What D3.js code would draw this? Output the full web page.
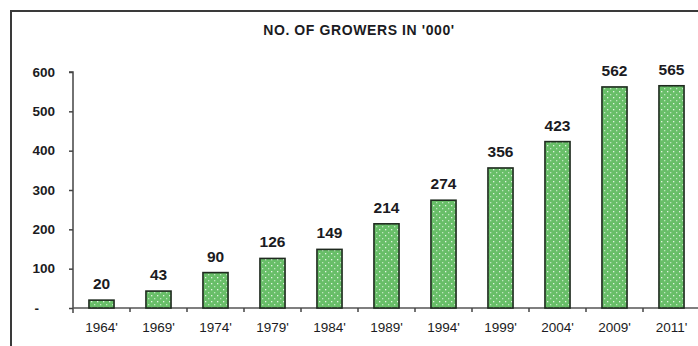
<!DOCTYPE html>
<html>
<head>
<meta charset="utf-8">
<script src="https://cdn.jsdelivr.net/npm/d3@7"></script>
<style>
  html, body { margin: 0; padding: 0; background: #fff; }
  svg { display: block; font-family: "Liberation Sans", Arial, sans-serif; }
</style>
</head>
<body>
<svg id="chart" width="698" height="346"></svg>
<script>
// Growers counted at each survey year (thousands)
const years = ["1964'", "1969'", "1974'", "1979'", "1984'", "1989'", "1994'", "1999'", "2004'", "2009'", "2011'"];
const growers = [20, 43, 90, 126, 149, 214, 274, 356, 423, 562, 565];
const yTicks = [0, 100, 200, 300, 400, 500, 600];
const yTickLabels = ["-", "100", "200", "300", "400", "500", "600"];
const chartTitle = "NO. OF GROWERS IN '000'";

const svg = d3.select("#chart");
const ink = "#1b1b22";

const margin = { left: 73, top: 72, bottom: 308, right: 700 };

const x = d3.scaleBand().domain(years).range([margin.left, margin.right]).paddingInner(0.56).paddingOuter(0.28);
const y = d3.scaleLinear().domain([0, 600]).range([margin.bottom, margin.top]);

// dotted green fill for the bars
const defs = svg.append("defs");
const pat = defs.append("pattern").attr("id", "dots").attr("patternUnits", "userSpaceOnUse")
  .attr("width", 6).attr("height", 6);
pat.append("rect").attr("width", 6).attr("height", 6).attr("fill", "#68be68");
pat.append("rect").attr("x", 1).attr("y", 1).attr("width", 1.3).attr("height", 1.3).attr("fill", "#e2f4e2");
pat.append("rect").attr("x", 4).attr("y", 4).attr("width", 1.3).attr("height", 1.3).attr("fill", "#bfe6bf");

// outer frame
svg.append("rect").attr("x", 11).attr("y", 11).attr("width", 720).attr("height", 360)
  .attr("fill", "none").attr("stroke", "#3a3a3a").attr("stroke-width", 2);

// title
svg.append("text").attr("x", 359).attr("y", 35).attr("text-anchor", "middle")
  .attr("font-weight", "bold").attr("font-size", 14).attr("letter-spacing", 0.6)
  .attr("fill", ink).text(chartTitle);

// y axis
const yAxis = d3.axisLeft(y).tickValues(yTicks).tickSize(4).tickPadding(14)
  .tickFormat((d, i) => yTickLabels[i]);
const gy = svg.append("g").attr("transform", `translate(${margin.left},0)`).call(yAxis);
gy.select(".domain").attr("stroke", "#444").attr("stroke-width", 1.5).attr("d", `M-4,${y(600)}H0V${y(0) + 5}`);
gy.selectAll(".tick line").attr("stroke", "#444").attr("stroke-width", 1.5);
gy.selectAll(".tick text").attr("font-size", 13.5).attr("font-weight", "bold").attr("fill", ink)
  .attr("font-family", "Liberation Sans, Arial, sans-serif");
// the zero label sits further left, as a dash in the accounting style
gy.selectAll(".tick text").filter(d => d === 0).attr("dx", -16);

// x axis with ticks between categories
const gx = svg.append("g").attr("transform", `translate(0,${margin.bottom})`);
gx.append("line").attr("x1", margin.left).attr("x2", margin.right).attr("y1", 0).attr("y2", 0)
  .attr("stroke", "#555").attr("stroke-width", 1.5);
const step = x.step();
gx.selectAll("line.sep").data(years.slice(1)).join("line").attr("class", "sep")
  .attr("x1", d => x(d) - (step - x.bandwidth()) / 2).attr("x2", d => x(d) - (step - x.bandwidth()) / 2)
  .attr("y1", 0).attr("y2", 4).attr("stroke", "#444").attr("stroke-width", 1.5);
gx.selectAll("text").data(years).join("text")
  .attr("x", d => x(d) + x.bandwidth() / 2).attr("y", 24).attr("text-anchor", "middle")
  .attr("font-size", 13.5).attr("fill", ink).text(d => d);

// bars
svg.append("g").selectAll("rect").data(growers).join("rect")
  .attr("x", (d, i) => x(years[i])).attr("width", x.bandwidth())
  .attr("y", d => y(d)).attr("height", d => y(0) - y(d))
  .attr("fill", "url(#dots)").attr("stroke", "#1f2a1f").attr("stroke-width", 1.6);

// value labels
svg.append("g").selectAll("text").data(growers).join("text")
  .attr("x", (d, i) => x(years[i]) + x.bandwidth() / 2).attr("y", d => y(d) - 11)
  .attr("text-anchor", "middle").attr("font-weight", "bold").attr("font-size", 15.5)
  .attr("fill", ink).text(d => d);
</script>
</body>
</html>
